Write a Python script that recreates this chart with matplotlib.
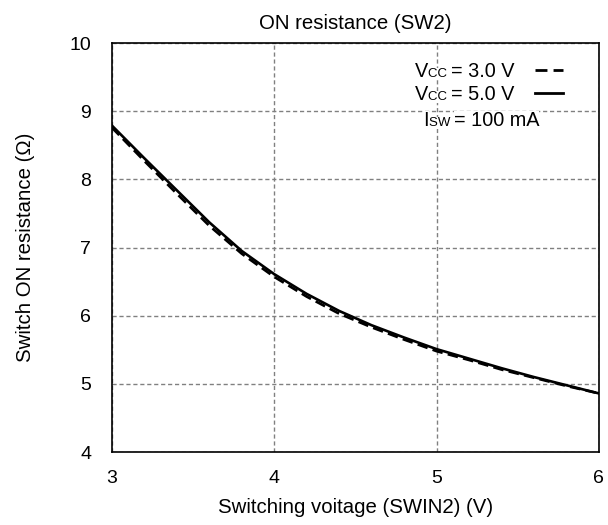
import matplotlib
matplotlib.use("Agg")
import matplotlib.pyplot as plt

plt.rcParams['font.family'] = ['Liberation Sans', 'DejaVu Sans']

# ---------------- data ----------------
vin = [3.0, 3.2, 3.4, 3.6, 3.8, 4.0, 4.2, 4.4, 4.6, 4.8, 5.0, 5.2, 5.4, 5.6, 5.8, 6.0]
ron_5v = [8.79, 8.31, 7.84, 7.37, 6.95, 6.61, 6.32, 6.07, 5.86, 5.68, 5.51,
          5.37, 5.23, 5.10, 4.98, 4.86]
ron_3v = [8.76, 8.27, 7.79, 7.32, 6.91, 6.57, 6.28, 6.03, 5.83, 5.65, 5.48,
          5.35, 5.21, 5.09, 4.97, 4.86]

x_ticks = [3, 4, 5, 6]
y_ticks = [4, 5, 6, 7, 8, 9, 10]

# ---------------- plot ----------------
fig = plt.figure(figsize=(6.08, 5.25), dpi=100)
ax = fig.add_axes([0.184, 0.139, 0.801, 0.779])

ax.plot(vin, ron_3v, color="black", linewidth=1.9, linestyle=(0, (4, 2)))
ax.plot(vin, ron_5v, color="black", linewidth=1.9)

ax.set_xlim(3, 6)
ax.set_ylim(4, 10)
ax.set_xticks(x_ticks)
ax.set_yticks(y_ticks)
ax.tick_params(length=0, labelsize=14)
ax.tick_params(axis="x", pad=13)
ax.tick_params(axis="y", pad=15)
ax.grid(True, color="#808080", linestyle=(0, (3, 2)), linewidth=1)
for s in ax.spines.values():
    s.set_linewidth(1.2)

ax.set_title("ON resistance (SW2)", fontsize=14.7, pad=10)
ax.set_xlabel("Switching voitage (SWIN2) (V)", fontsize=14.7, labelpad=8)
ax.set_ylabel("Switch ON resistance (Ω)", fontsize=14.7, labelpad=25)

renderer = fig.canvas.get_renderer()
inv = ax.transAxes.inverted()


# legend-like text block, small caps sitting on the same baseline
def label(x, y, parts):
    for txt, fs in parts:
        t = ax.text(x, y, txt, fontsize=fs, transform=ax.transAxes,
                    va="baseline", ha="left", zorder=5,
                    bbox=dict(facecolor="white", edgecolor="none", pad=0))
        bb = t.get_window_extent(renderer)
        x = inv.transform((bb.x1, bb.y0))[0]


label(0.622, 0.918, [("V", 14.3), ("CC ", 9.5), ("= 3.0 V", 14.3)])
label(0.622, 0.860, [("V", 14.3), ("CC ", 9.5), ("= 5.0 V", 14.3)])
label(0.639, 0.798, [("I", 14.3), ("SW ", 9.5), ("= 100 mA", 14.3)])

ax.plot([0.869, 0.926], [0.934, 0.934], transform=ax.transAxes, color="black",
        linewidth=2, linestyle=(0, (4.3, 2.2)), zorder=6)
ax.plot([0.869, 0.926], [0.877, 0.877], transform=ax.transAxes, color="black",
        linewidth=2, zorder=6)

fig.savefig("out.png", dpi=100)
